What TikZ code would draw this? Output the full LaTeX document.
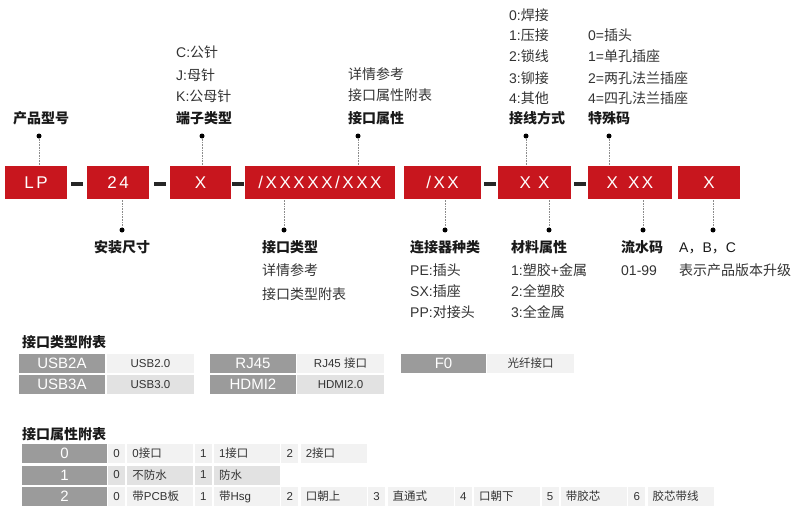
\documentclass[tikz,border=0pt]{standalone}
\usepackage{fontspec}
\setmainfont{Liberation Sans}
\newfontfamily\zh{Noto Sans CJK SC}
\newfontfamily\codefont[LetterSpace=15]{Liberation Sans}
\usetikzlibrary{positioning}
\definecolor{lpred}{RGB}{200,22,30}
\definecolor{hgray}{RGB}{155,155,155}
\definecolor{rowa}{RGB}{242,242,242}
\definecolor{rowb}{RGB}{226,226,226}
\definecolor{txt}{RGB}{51,51,51}
\tikzset{
  codebox/.style={fill=lpred, text=white, minimum height=33pt, inner sep=0pt,
    font=\codefont\fontsize{17}{20}\selectfont},
  sepbar/.style={fill=black!85, minimum width=12pt, minimum height=3.5pt, inner sep=0pt},
  pindot/.style={circle, fill=black, minimum size=5pt, inner sep=0pt},
  leader/.style={densely dotted, black!45, line width=0.6pt},
  head/.style={anchor=base west, inner sep=0pt, text=black!90,
    font=\zh\bfseries\fontsize{14}{16}\selectfont},
  note/.style={anchor=base west, inner sep=0pt, text=txt, font=\fontsize{14}{16}\selectfont},
  hcell/.style={fill=hgray, text=white, minimum width=86pt, minimum height=19pt,
    inner sep=0pt, font=\fontsize{15}{17}\selectfont},
  vcell/.style={text=txt, minimum width=87pt, minimum height=19pt, inner sep=0pt,
    font=\fontsize{11.5}{13}\selectfont},
  numcell/.style={text=txt, minimum width=17pt, minimum height=19pt, inner sep=0pt,
    font=\fontsize{11.5}{13}\selectfont},
  txtcell/.style={text=txt, text width=56pt, align=left, inner xsep=5pt, inner ysep=0pt,
    minimum height=19pt, font=\fontsize{11.5}{13}\selectfont},
}
\begin{document}
\begin{tikzpicture}[x=1pt,y=-1pt]
\useasboundingbox (0,0) rectangle (800,511);
% Code boxes
\node[codebox, minimum width=62pt] (lp) at (36,182.5) {LP};
\node[codebox, minimum width=62pt] (size) at (118,182.5) {24};
\node[codebox, minimum width=61pt] (term) at (200.5,182.5) {X};
\node[codebox, minimum width=150pt] (itype) at (320,182.5) {/XXXXX/XXX};
\node[codebox, minimum width=77pt] (ctype) at (442.5,182.5) {/XX};
\node[codebox, minimum width=73pt] (wire) at (534.5,182.5) {X\ X};
\node[codebox, minimum width=84pt] (serial) at (630,182.5) {X\ \,XX};
\node[codebox, minimum width=62pt] (ver) at (709,182.5) {X};
% Separators
\node[sepbar] (s1) at (76.5,184) {};
\node[sepbar] (s2) at (159.5,184) {};
\node[sepbar] (s3) at (238,184) {};
\node[sepbar] (s4) at (489.5,184) {};
\node[sepbar] (s5) at (579.5,184) {};
% Top leaders
\node[pindot] (dlp) at (39,136) {};
\node[pindot] (dterm) at (202,136) {};
\node[pindot] (dattr) at (358,136) {};
\node[pindot] (dwire) at (526,136) {};
\node[pindot] (dspec) at (609,136) {};
\draw[leader] (dlp) -- (dlp |- lp.north);
\draw[leader] (dterm) -- (dterm |- term.north);
\draw[leader] (dattr) -- (dattr |- itype.north);
\draw[leader] (dwire) -- (dwire |- wire.north);
\draw[leader] (dspec) -- (dspec |- serial.north);
% Bottom leaders
\node[pindot] (dsize) at (122,230) {};
\node[pindot] (ditype) at (284,230) {};
\node[pindot] (dctype) at (445,230) {};
\node[pindot] (dmat) at (549,230) {};
\node[pindot] (dserial) at (643,230) {};
\node[pindot] (dver) at (713,230) {};
\draw[leader] (dsize) -- (dsize |- size.south);
\draw[leader] (ditype) -- (ditype |- itype.south);
\draw[leader] (dctype) -- (dctype |- ctype.south);
\draw[leader] (dmat) -- (dmat |- wire.south);
\draw[leader] (dserial) -- (dserial |- serial.south);
\draw[leader] (dver) -- (dver |- ver.south);
% Top labels
\node[head] (hlp) at (13,123) {产品型号};
\node[head] (hterm) at (176,123) {端子类型};
\node[note] (nterm3) at (176,101) {K:{\zh 公母针}};
\node[note] (nterm2) at (176,80) {J:{\zh 母针}};
\node[note] (nterm1) at (176,58) {C:{\zh 公针}};
\node[head] (hattr) at (348,123) {接口属性};
\node[note] (nattr2) at (348,100) {\zh 接口属性附表};
\node[note] (nattr1) at (348,79) {\zh 详情参考};
\node[head] (hwire) at (509,123) {接线方式};
\node[note] (nwire4) at (509,103) {4:{\zh 其他}};
\node[note] (nwire3) at (509,83) {3:{\zh 铆接}};
\node[note] (nwire2) at (509,62) {2:{\zh 锁线}};
\node[note] (nwire1) at (509,41) {1:{\zh 压接}};
\node[note] (nwire0) at (509,21) {0:{\zh 焊接}};
\node[head] (hspec) at (588,123) {特殊码};
\node[note] (nspec4) at (588,103) {4={\zh 四孔法兰插座}};
\node[note] (nspec2) at (588,83) {2={\zh 两孔法兰插座}};
\node[note] (nspec1) at (588,62) {1={\zh 单孔插座}};
\node[note] (nspec0) at (588,41) {0={\zh 插头}};
% Bottom labels
\node[head] (hsize) at (94,252) {安装尺寸};
\node[head] (hitype) at (262,252) {接口类型};
\node[note] (nitype1) at (262,275) {\zh 详情参考};
\node[note] (nitype2) at (262,299) {\zh 接口类型附表};
\node[head] (hctype) at (410,252) {连接器种类};
\node[note] (nctype1) at (410,275) {PE:{\zh 插头}};
\node[note] (nctype2) at (410,296) {SX:{\zh 插座}};
\node[note] (nctype3) at (410,317) {PP:{\zh 对接头}};
\node[head] (hmat) at (511,252) {材料属性};
\node[note] (nmat1) at (511,275) {1:{\zh 塑胶}+{\zh 金属}};
\node[note] (nmat2) at (511,296) {2:{\zh 全塑胶}};
\node[note] (nmat3) at (511,317) {3:{\zh 全金属}};
\node[head] (hserial) at (621,252) {流水码};
\node[note] (nserial) at (621,275) {01-99};
\node[note, text=black!90] (hver) at (679,252) {A{\zh ，}B{\zh ，}C};
\node[note] (nver) at (679,275) {\zh 表示产品版本升级};
% Interface type table
\node[head] (tab1) at (22,347) {接口类型附表};
\node[hcell] (usb2) at (62,363.5) {USB2A};
\node[hcell] (usb3) at (62,384.5) {USB3A};
\node[hcell] (rj) at (253,363.5) {RJ45};
\node[hcell] (hdmi) at (253,384.5) {HDMI2};
\node[hcell, minimum width=85pt] (fo) at (443.5,363.5) {F0};
\node[vcell, fill=rowa] (usb2v) at (150.5,363.5) {USB2.0};
\node[vcell, fill=rowb] (usb3v) at (150.5,384.5) {USB3.0};
\node[vcell, fill=rowa] (rjv) at (340.5,363.5) {RJ45 {\zh 接口}};
\node[vcell, fill=rowb] (hdmiv) at (340.5,384.5) {HDMI2.0};
\node[vcell, fill=rowa] (fov) at (530.5,363.5) {\zh 光纤接口};
% Interface property table
\node[head] (tab2) at (22,439) {接口属性附表};
\node[hcell, minimum width=85pt] (p0) at (64.5,453.5) {0};
\node[hcell, minimum width=85pt] (p1) at (64.5,475) {1};
\node[hcell, minimum width=85pt] (p2) at (64.5,496.5) {2};
\foreach \n/\t [count=\k from 0] in {0/0{\zh 接口},1/1{\zh 接口},2/2{\zh 接口}} {
  \node[numcell, fill=rowa] (r0n\k) at (116.5+86.7*\k,453.5) {\n};
  \node[txtcell, fill=rowa, right=2pt of r0n\k] (r0t\k) {\t};
}
\foreach \n/\t [count=\k from 0] in {0/{\zh 不防水},1/{\zh 防水}} {
  \node[numcell, fill=rowb] (r1n\k) at (116.5+86.7*\k,475) {\n};
  \node[txtcell, fill=rowb, right=2pt of r1n\k] (r1t\k) {\t};
}
\foreach \n/\t [count=\k from 0] in {0/{\zh 带}PCB{\zh 板},1/{\zh 带}Hsg,2/{\zh 口朝上},
    3/{\zh 直通式},4/{\zh 口朝下},5/{\zh 带胶芯},6/{\zh 胶芯带线}} {
  \node[numcell, fill=rowa] (r2n\k) at (116.5+86.7*\k,496.5) {\n};
  \node[txtcell, fill=rowa, right=2pt of r2n\k] (r2t\k) {\t};
}
\end{tikzpicture}
\end{document}
